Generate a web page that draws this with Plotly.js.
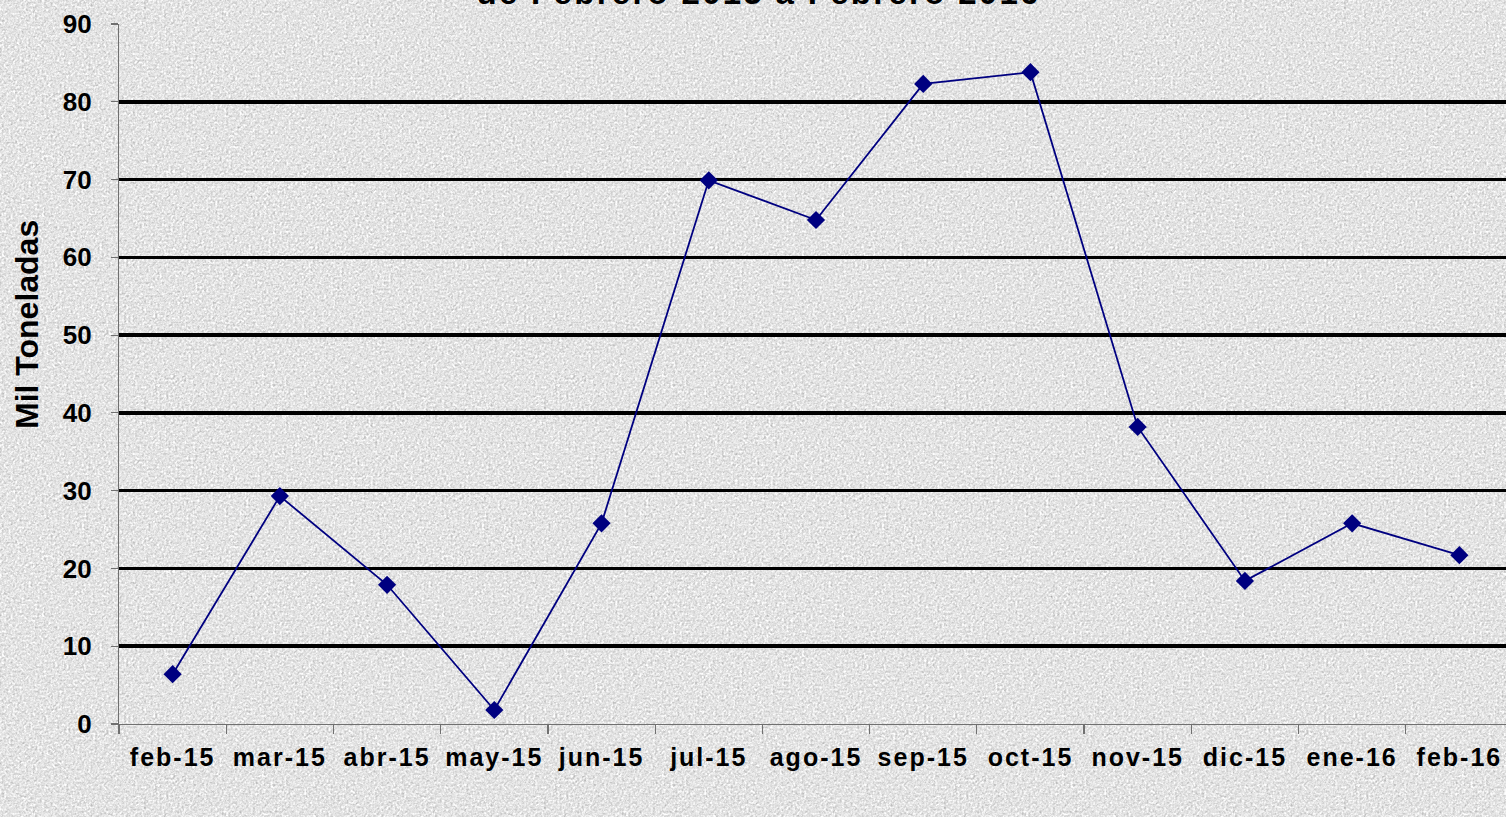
<!DOCTYPE html>
<html>
<head>
<meta charset="utf-8">
<script src="https://cdn.plot.ly/plotly-3.0.1.min.js"></script>
<style>
html, body { margin:0; padding:0; width:1506px; height:817px; overflow:hidden; }
body {
  background-color:#e2e2e2;
  background-image:url("data:image/svg+xml;utf8,<svg xmlns='http://www.w3.org/2000/svg' width='400' height='400'><filter id='n' color-interpolation-filters='sRGB'><feTurbulence type='fractalNoise' baseFrequency='0.45' numOctaves='4' stitchTiles='stitch'/><feColorMatrix type='matrix' values='0.33 0.33 0.33 0 0  0.33 0.33 0.33 0 0  0.33 0.33 0.33 0 0  0 0 0 0 1'/><feComponentTransfer><feFuncR type='linear' slope='0.7' intercept='0.545'/><feFuncG type='linear' slope='0.7' intercept='0.545'/><feFuncB type='linear' slope='0.7' intercept='0.545'/></feComponentTransfer></filter><rect width='100%' height='100%' filter='url(%23n)'/></svg>");
}
#chart { width:1520px; height:817px; }
#chart .xtick text { letter-spacing: 2px; }
#chart .annotation-text.wide { letter-spacing: 2.3px; }
</style>
</head>
<body>
<div id="chart"></div>
<script>
const categories = ["feb-15","mar-15","abr-15","may-15","jun-15","jul-15","ago-15","sep-15","oct-15","nov-15","dic-15","ene-16","feb-16"];
const values = [6.4, 29.3, 17.9, 1.8, 25.8, 69.9, 64.8, 82.3, 83.8, 38.2, 18.4, 25.8, 21.7];
const titleText = "de Febrero 2015 a Febrero 2016";
const yTitle = "Mil Toneladas";

const font = "Liberation Sans, Arial, sans-serif";
Plotly.newPlot("chart", [{
  x: categories,
  y: values,
  type: "scatter",
  mode: "lines+markers",
  line: {color: "#000080", width: 1.8},
  marker: {symbol: "diamond", size: 14, color: "#000080"},
  cliponaxis: false
}], {
  width: 1520, height: 817,
  margin: {l: 119, r: 7, t: 24, b: 93},
  paper_bgcolor: "rgba(0,0,0,0)",
  plot_bgcolor: "rgba(0,0,0,0)",
  showlegend: false,
  font: {family: font, color: "#000"},
  xaxis: {
    type: "category",
    range: [-0.5, 12.5],
    tickson: "boundaries",
    ticks: "outside", ticklen: 9, tickwidth: 1.2, tickcolor: "#707070",
    showline: true, linecolor: "#707070", linewidth: 1.2,
    showgrid: false,
    tickfont: {family: font, size: 25, color: "#000", weight: "bold"},
    ticklabelstandoff: 11,
    fixedrange: true
  },
  yaxis: {
    range: [0, 90],
    dtick: 10,
    ticks: "outside", ticklen: 7, tickwidth: 1.2, tickcolor: "#707070",
    showline: true, linecolor: "#707070", linewidth: 1.2,
    showgrid: true, gridcolor: "#000", gridwidth: 3.5,
    zeroline: false,
    tickfont: {family: font, size: 26, color: "#000", weight: "bold"},
    ticklabelstandoff: 14,
    fixedrange: true
  },
  annotations: [{
    text: "<b>" + titleText + "</b>",
    xref: "paper", yref: "paper",
    x: (758 - 119) / 1394, y: 1, xanchor: "center", yanchor: "bottom",
    yshift: 11,
    showarrow: false,
    font: {family: font, size: 33, color: "#000"}
  }, {
    text: "<b>" + yTitle + "</b>",
    xref: "paper", yref: "paper",
    x: (27 - 119) / 1394, y: (724 - 325) / 700, xanchor: "center", yanchor: "middle",
    textangle: -90,
    showarrow: false,
    font: {family: font, size: 32, color: "#000"}
  }]
}, {displayModeBar: false, staticPlot: true}).then(function () {
  const t = document.querySelectorAll("#chart .annotation-text");
  if (t.length) t[0].classList.add("wide");
});
</script>
</body>
</html>
